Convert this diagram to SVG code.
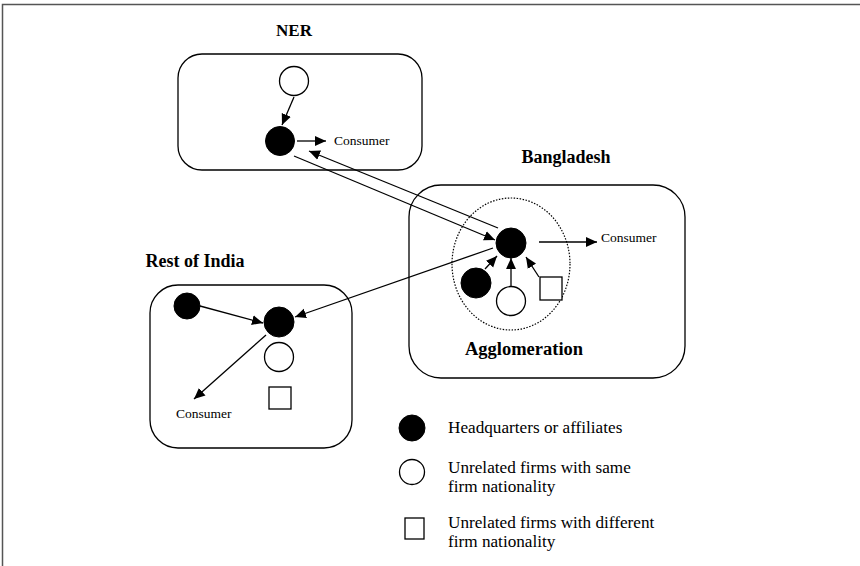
<svg xmlns="http://www.w3.org/2000/svg" width="860" height="566" viewBox="0 0 860 566">
  <style>
    .region { fill: none; stroke: #000; stroke-width: 1.3; }
    .hq { fill: #000; stroke: #000; stroke-width: 1; }
    .same { fill: #fff; stroke: #000; stroke-width: 1.3; }
    .diff { fill: #fff; stroke: #000; stroke-width: 1.3; }
    .flow { fill: none; stroke: #000; stroke-width: 1.3; marker-end: url(#arrow); }
    .title { font-family: "Liberation Serif", "DejaVu Serif", serif; font-weight: bold; fill: #000; text-anchor: middle; }
    .small { font-family: "Liberation Serif", "DejaVu Serif", serif; font-size: 13.5px; fill: #000; }
    .legend { font-family: "Liberation Serif", "DejaVu Serif", serif; font-size: 17.2px; fill: #000; }
  </style>
  <defs>
    <marker id="arrow" viewBox="0 0 10 10" refX="10" refY="5" markerWidth="11" markerHeight="11" markerUnits="userSpaceOnUse" orient="auto">
      <path d="M0,0.5 L10,5 L0,9.5 Z" fill="#000"/>
    </marker>
  </defs>

  <rect width="860" height="566" fill="#fff"/>
  <!-- page frame: top and left edges -->
  <path d="M2.5,566 V4.5 H860" fill="none" stroke="#555" stroke-width="1.5"/>

  <!-- NER region -->
  <g id="ner">
    <text class="title" x="294" y="36" font-size="17">NER</text>
    <rect class="region" x="178" y="54" width="244" height="116" rx="24"/>
    <circle class="same" cx="294" cy="81" r="14.5"/>
    <circle class="hq" cx="280" cy="141" r="14.5"/>
    <text class="small" x="334" y="145">Consumer</text>
  </g>

  <!-- Bangladesh region with agglomeration -->
  <g id="bangladesh">
    <text class="title" x="566" y="163" font-size="18">Bangladesh</text>
    <rect class="region" x="409" y="185" width="276" height="193" rx="32"/>
    <ellipse cx="511" cy="264" rx="59" ry="66" fill="none" stroke="#000" stroke-width="1.2" stroke-dasharray="1.5 1.5"/>
    <circle class="hq" cx="511" cy="243" r="15"/>
    <circle class="hq" cx="476" cy="283" r="15"/>
    <circle class="same" cx="511" cy="301" r="14.5"/>
    <rect class="diff" x="540" y="277" width="22" height="23"/>
    <text class="small" x="601" y="242" font-size="13">Consumer</text>
    <text class="title" x="524" y="355" font-size="18.5">Agglomeration</text>
  </g>

  <!-- Rest of India region -->
  <g id="rest-of-india">
    <text class="title" x="195" y="267" font-size="18">Rest of India</text>
    <rect class="region" x="150" y="285" width="202" height="163" rx="28"/>
    <circle class="hq" cx="187" cy="306" r="13"/>
    <circle class="hq" cx="279" cy="322" r="15"/>
    <circle class="same" cx="279" cy="357" r="14.5"/>
    <rect class="diff" x="269" y="387" width="22" height="22"/>
    <text class="small" x="176" y="418" font-size="13">Consumer</text>
  </g>

  <!-- connectors -->
  <g id="connectors">
    <line class="flow" x1="294" y1="97" x2="282" y2="125"/>
    <line class="flow" x1="297" y1="141" x2="326" y2="141"/>
    <line class="flow" x1="294" y1="156" x2="495" y2="240"/>
    <line class="flow" x1="498" y1="228" x2="309" y2="151"/>
    <line class="flow" x1="539" y1="242" x2="597" y2="242"/>
    <line class="flow" x1="485" y1="269" x2="497" y2="256"/>
    <line class="flow" x1="511" y1="286" x2="511" y2="258"/>
    <line class="flow" x1="539" y1="277" x2="526" y2="257"/>
    <line class="flow" x1="493" y1="248" x2="295" y2="317"/>
    <line class="flow" x1="200" y1="306" x2="263" y2="323"/>
    <line class="flow" x1="266" y1="335" x2="194" y2="399"/>
  </g>

  <!-- key -->
  <g id="legend">
    <circle class="hq" cx="412" cy="428" r="13"/>
    <text class="legend" x="448" y="433">Headquarters or affiliates</text>
    <circle class="same" cx="412" cy="472" r="12.5"/>
    <text class="legend" x="448" y="473">Unrelated firms with same</text>
    <text class="legend" x="448" y="492">firm nationality</text>
    <rect class="diff" x="405" y="518" width="19" height="21"/>
    <text class="legend" x="448" y="528">Unrelated firms with different</text>
    <text class="legend" x="448" y="547">firm nationality</text>
  </g>
</svg>
